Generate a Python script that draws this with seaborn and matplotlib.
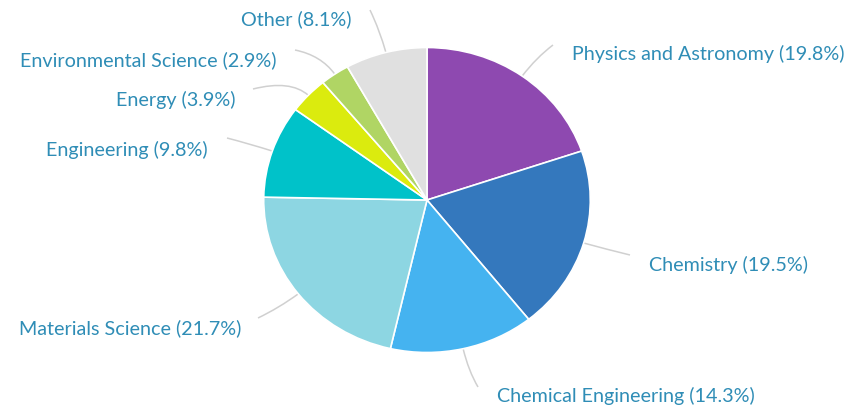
import numpy as np
import matplotlib
matplotlib.use("Agg")
import matplotlib.pyplot as plt
from matplotlib.path import Path
from matplotlib.patches import PathPatch
import seaborn as sns

# ---- data ----
categories = ["Physics and Astronomy", "Chemistry", "Chemical Engineering",
              "Materials Science", "Engineering", "Energy",
              "Environmental Science", "Other"]
shares = [19.8, 19.5, 14.3, 21.7, 9.8, 3.9, 2.9, 8.1]
colors = ["#8e49b0", "#3478bd", "#45b3f0", "#8dd6e2", "#00c2c9",
          "#dbeb0e", "#b0d564", "#e0e0e0"]
# label anchor (pixel x, pixel y, alignment) and leader end points
label_pos = [(572, 54, "left"), (649, 265, "left"), (497, 396, "left"),
             (241, 328, "right"), (208, 150, "right"), (236, 100, "right"),
             (277, 60, "right"), (352, 19, "right")]
leader_end = [(553, 45), (630, 255), (478, 387), (258, 318),
              (227, 138), (253, 89), (295, 50), (370, 10)]

sns.set_theme(style="white")
plt.rcParams["font.family"] = ["Lato", "DejaVu Sans"]

W, H = 850, 412
fig = plt.figure(figsize=(W / 100, H / 100), dpi=100)
fig.patch.set_facecolor("white")

# pie geometry in pixels (slightly elliptical as in reference)
cx, cy, rx, ry = 427, 200, 163.3, 152.5
pax = fig.add_axes([(cx - rx) / W, (H - cy - ry) / H, 2 * rx / W, 2 * ry / H])
pax.pie(shares, colors=sns.color_palette(colors), startangle=90,
        counterclock=False, radius=1,
        wedgeprops=dict(edgecolor="white", linewidth=1.2))
pax.set_aspect("auto")
pax.set_xlim(-1, 1)
pax.set_ylim(-1, 1)
pax.axis("off")

ax = fig.add_axes([0, 0, 1, 1], zorder=-1)
ax.set_xlim(0, W)
ax.set_ylim(H, 0)
ax.axis("off")

cum = np.cumsum([0] + shares[:-1])
text_color = "#2f8db6"
for i, (cat, s) in enumerate(zip(categories, shares)):
    ang = np.deg2rad(90 - (cum[i] + s / 2) * 3.6)
    p0 = (cx + rx * np.cos(ang), cy - ry * np.sin(ang))
    p1 = (cx + 1.15 * rx * np.cos(ang), cy - 1.15 * ry * np.sin(ang))
    p2 = leader_end[i]
    path = Path([p0, p1, p2], [Path.MOVETO, Path.CURVE3, Path.CURVE3])
    ax.add_patch(PathPatch(path, facecolor="none", edgecolor="#d0d0d0", lw=1.1))
    x, y, ha = label_pos[i]
    ax.text(x, y, f"{cat} ({s}%)", ha=ha, va="center", fontsize=14.2,
            color=text_color)

fig.savefig("out.png", dpi=100, facecolor="white")
